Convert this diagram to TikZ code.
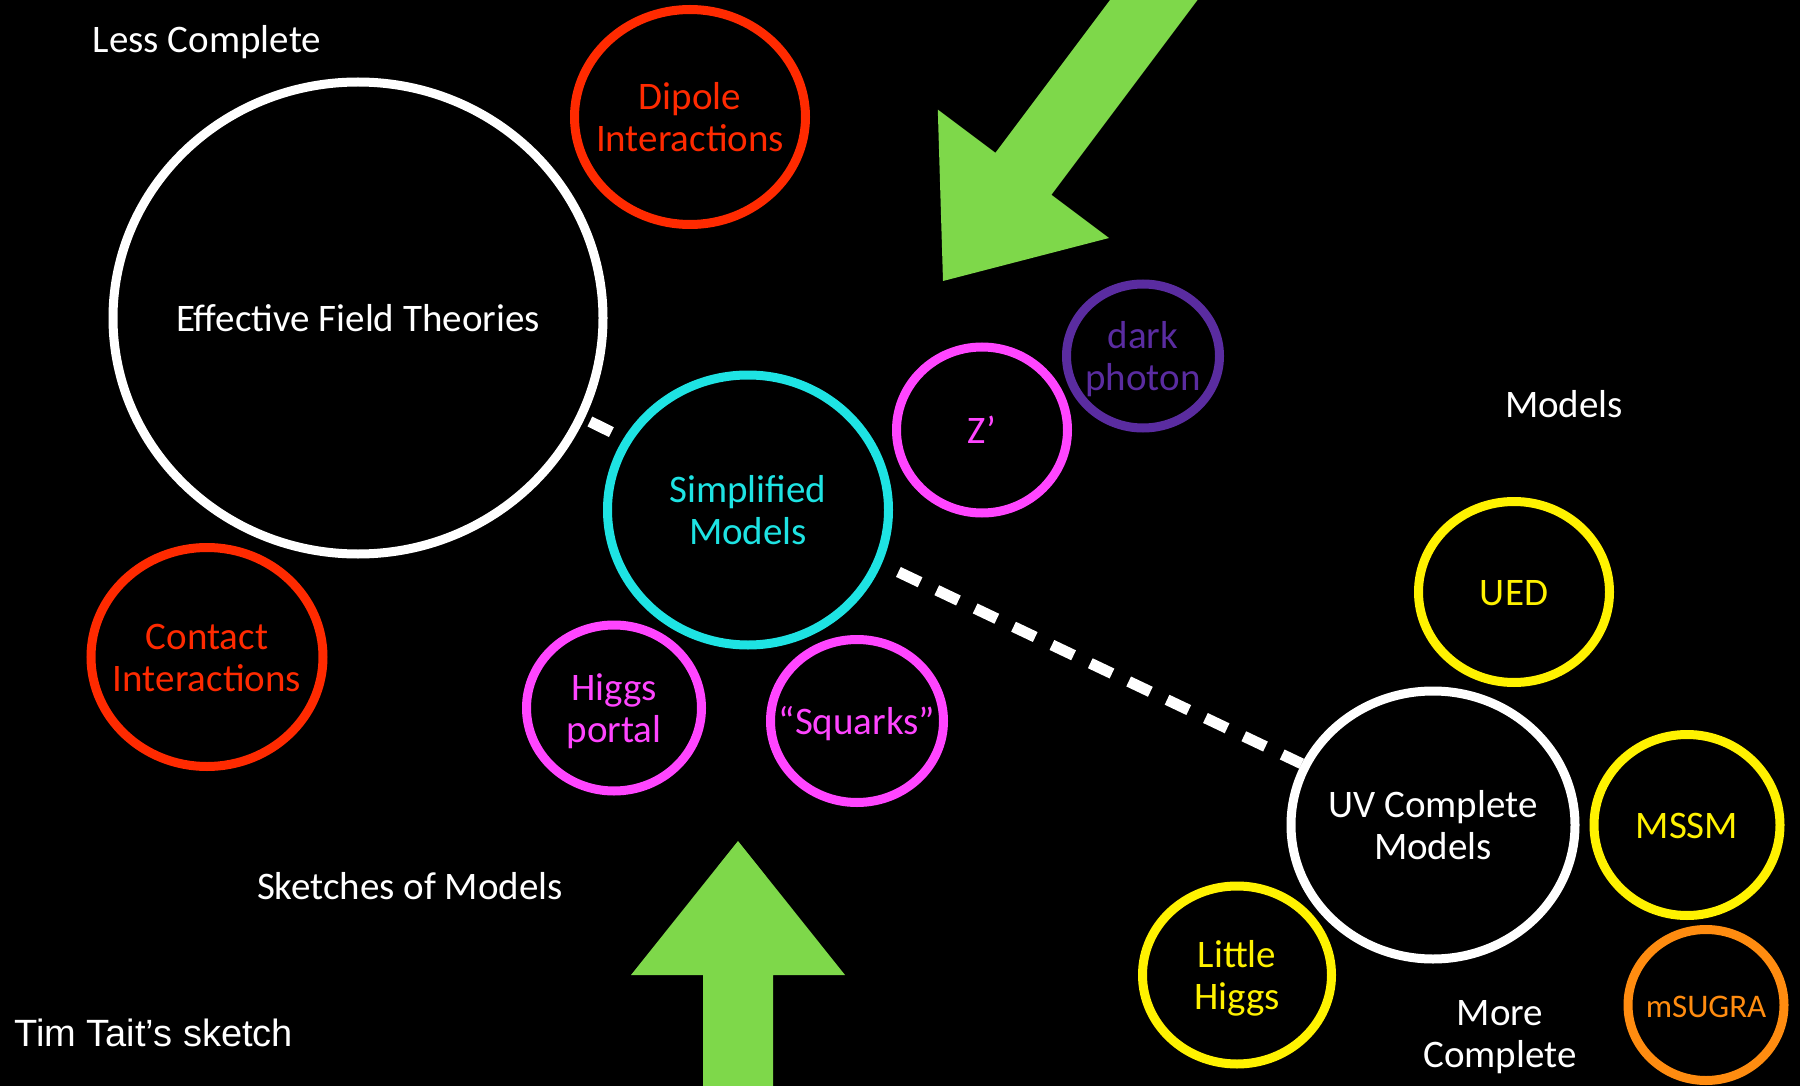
\documentclass[tikz,border=0pt]{standalone}
\usepackage{fontspec}
\setmainfont{Carlito}
\newfontfamily\arialfont{Liberation Sans}
\usetikzlibrary{shapes.geometric}

\definecolor{eftred}{HTML}{FF2A00}
\definecolor{simpcyan}{HTML}{1EE3E3}
\definecolor{portalpink}{HTML}{FF45FF}
\definecolor{photonpurple}{HTML}{5A2CA0}
\definecolor{uvyellow}{HTML}{FFF200}
\definecolor{sugraorange}{HTML}{FF8C10}
\definecolor{arrowgreen}{HTML}{7ED84A}

\newcommand\slidefont{\fontsize{39}{41.5}\selectfont}
% text that does not widen its bubble
\newcommand\inbubble[1]{\makebox[0pt]{\raisebox{-5pt}[\height][\depth]{\begin{tabular}{@{}c@{}}#1\end{tabular}}}}

\begin{document}
\begin{tikzpicture}[x=1pt, y=-1pt,
  bubble/.style={ellipse, draw, line width=9pt, inner sep=0pt, font=\slidefont},
  caption/.style={text=white, align=center, font=\slidefont},
  link/.style={draw=white, line width=11pt, dash pattern=on 24pt off 18.5pt},
  bigarrow/.pic={\fill[arrowgreen] (0,0) -- (-134,107) -- (-134,35) -- (-450,35)
    -- (-450,-35) -- (-134,-35) -- (-134,-107) -- cycle;}
]
\useasboundingbox (0,0) rectangle (1800,1086);
\clip (0,0) rectangle (1800,1086);
\fill[black] (0,0) rectangle (1800,1086);

% the two green arrows
\pic[rotate=233.13] at (943,281) {bigarrow};
\pic[rotate=90] at (738,841) {bigarrow};

% less complete side
\node[caption] (lesscomplete) at (207,42) {Less Complete};
\node[bubble, draw=white, text=white, minimum width=490pt, minimum height=472pt] (eft) at (358,318) {\inbubble{Effective Field Theories}};
\node[bubble, draw=eftred, text=eftred, minimum width=231pt, minimum height=215pt] (dipole) at (690,117) {\inbubble{Dipole\\Interactions}};
\node[bubble, draw=eftred, text=eftred, minimum width=232pt, minimum height=219pt] (contact) at (207,657) {\inbubble{Contact\\Interactions}};

% simplified models
\node[bubble, draw=simpcyan, text=simpcyan, minimum width=281pt, minimum height=270pt] (simp) at (748,510) {\inbubble{Simplified\\Models}};
\node[bubble, draw=portalpink, text=portalpink, minimum width=171pt, minimum height=166pt] (zprime) at (982,430) {\inbubble{Z’}};
\node[bubble, draw=photonpurple, text=photonpurple, minimum width=153pt, minimum height=144pt] (photon) at (1143,356) {\inbubble{dark\\photon}};
\node[bubble, draw=portalpink, text=portalpink, minimum width=175pt, minimum height=166pt] (higgsportal) at (614,708) {\inbubble{Higgs\\portal}};
\node[bubble, draw=portalpink, text=portalpink, minimum width=173pt, minimum height=163pt] (squarks) at (857,721) {\inbubble{“Squarks”}};
\node[caption] (sketches) at (410,886) {Sketches of Models};

% more complete side
\node[caption] (models) at (1564,404) {Models};
\node[bubble, draw=uvyellow, text=uvyellow, minimum width=191pt, minimum height=181pt] (ued) at (1514,592) {\inbubble{UED}};
\node[bubble, draw=white, text=white, minimum width=284pt, minimum height=268pt] (uv) at (1433,825) {\inbubble{UV Complete\\Models}};
\node[bubble, draw=uvyellow, text=uvyellow, minimum width=186pt, minimum height=181pt] (mssm) at (1687,825) {\inbubble{MSSM}};
\node[bubble, draw=sugraorange, text=sugraorange, minimum width=156pt, minimum height=151pt,
  font=\fontsize{33}{36}\selectfont] (msugra) at (1706,1005) {\inbubble{mSUGRA}};
\node[bubble, draw=uvyellow, text=uvyellow, minimum width=189pt, minimum height=178pt] (littlehiggs) at (1237,975) {\inbubble{Little\\Higgs}};
\node[caption] (morecomplete) at (1500,1037) {More\\Complete};

\node[anchor=west, inner sep=0pt, text=white, font=\arialfont\fontsize{38}{42}\selectfont] (credit) at (14,1033) {Tim Tait’s sketch};

% dashed links
\draw[link, dash phase=36.5pt] (eft.336) -- (simp.150);
\draw[link, dash phase=24pt] (simp.338) -- (uv.155);
\end{tikzpicture}
\end{document}
